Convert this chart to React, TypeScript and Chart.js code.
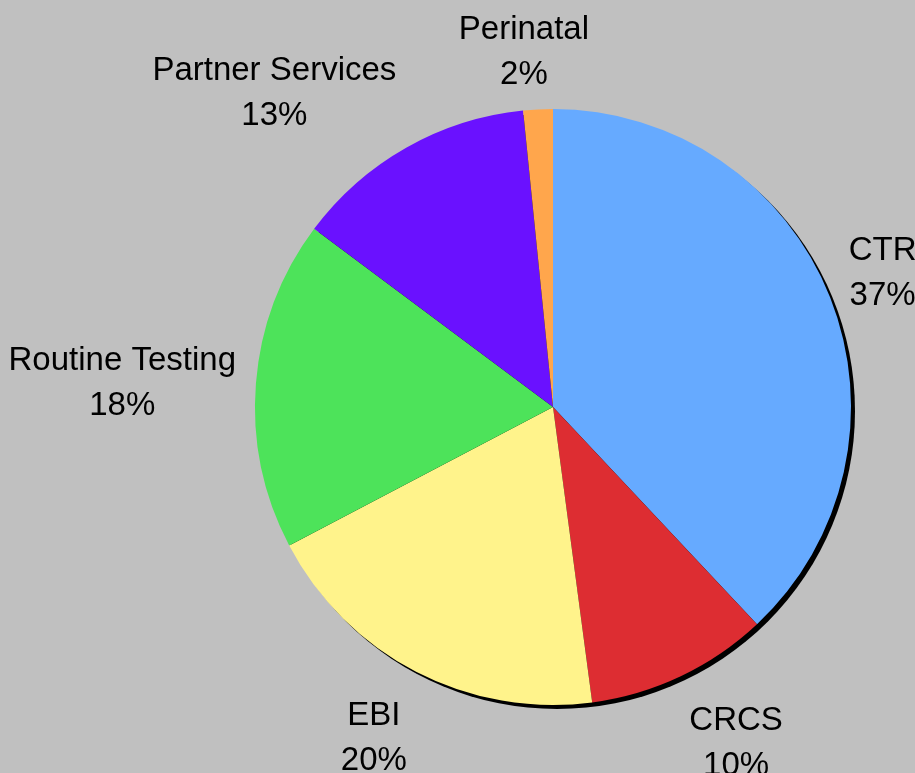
import React, { useEffect, useRef } from "react";
import { Chart, registerables } from "chart.js";

Chart.register(...registerables);

const categories = ["CTR", "CRCS", "EBI", "Routine Testing", "Partner Services", "Perinatal"];
const values = [38.0, 9.9, 19.4, 17.9, 13.2, 1.6];
const percentLabels = ["37%", "10%", "20%", "18%", "13%", "2%"];
const colors = ["#66aaff", "#dd2d32", "#fff38b", "#4de35a", "#6a11ff", "#ffa64c"];

const FONT = '33px "Liberation Sans", Arial, sans-serif';
const LINE_GAP = 45;
const ASCENT = 36;
const DESCENT = 5;
const LABEL_GAP = 20;

const clamp = (v: number) => Math.max(-1, Math.min(1, v));

const shadowPlugin = {
  id: "pieShadow",
  beforeDatasetsDraw(chart: any) {
    const meta = chart.getDatasetMeta(0);
    const arc = meta.data[0] as any;
    if (!arc) return;
    const ctx = chart.ctx;
    ctx.save();
    ctx.fillStyle = "#000000";
    ctx.beginPath();
    ctx.arc(arc.x + 4, arc.y + 4, arc.outerRadius, 0, Math.PI * 2);
    ctx.fill();
    ctx.restore();
  },
};

const labelPlugin = {
  id: "pieLabels",
  afterDatasetsDraw(chart: any) {
    const meta = chart.getDatasetMeta(0);
    const ctx = chart.ctx;
    ctx.save();
    ctx.font = FONT;
    ctx.fillStyle = "#000000";
    ctx.textAlign = "center";
    ctx.textBaseline = "alphabetic";
    meta.data.forEach((arc: any, i: number) => {
      const mid = (arc.startAngle + arc.endAngle) / 2;
      const dx = Math.cos(mid);
      const dy = Math.sin(mid);
      const ax = arc.x + dx * (arc.outerRadius + LABEL_GAP);
      const ay = arc.y + dy * (arc.outerRadius + LABEL_GAP);
      const lines = [categories[i], percentLabels[i]];
      const w = Math.max(...lines.map((l) => ctx.measureText(l).width));
      const h = ASCENT + LINE_GAP + DESCENT;
      const cx = ax + clamp(dx * 4) * (w / 2);
      const cy = ay + clamp(dy * 1.45) * (h / 2);
      const top = cy - h / 2;
      lines.forEach((l, k) => {
        ctx.fillText(l, cx, top + ASCENT + k * LINE_GAP);
      });
    });
    ctx.restore();
  },
};

export default function App() {
  const ref = useRef<HTMLCanvasElement | null>(null);
  useEffect(() => {
    document.body.style.margin = "0";
    const canvas = ref.current;
    if (!canvas) return;
    const chart = new Chart(canvas, {
      type: "pie",
      data: {
        labels: categories,
        datasets: [
          {
            data: values,
            backgroundColor: colors,
            borderWidth: 0,
            hoverOffset: 0,
            offset: 0,
          },
        ],
      },
      options: {
        animation: false,
        responsive: false,
        devicePixelRatio: 1,
        events: [],
        layout: { padding: { left: 255, right: 64, top: 109, bottom: 68 } },
        plugins: {
          legend: { display: false },
          tooltip: { enabled: false },
          title: { display: false },
        },
      },
      plugins: [shadowPlugin, labelPlugin],
    });
    return () => chart.destroy();
  }, []);
  return (
    <div style={{ width: 915, height: 773, background: "#c0c0c0" }}>
      <canvas ref={ref} width={915} height={773} style={{ display: "block" }} />
    </div>
  );
}
